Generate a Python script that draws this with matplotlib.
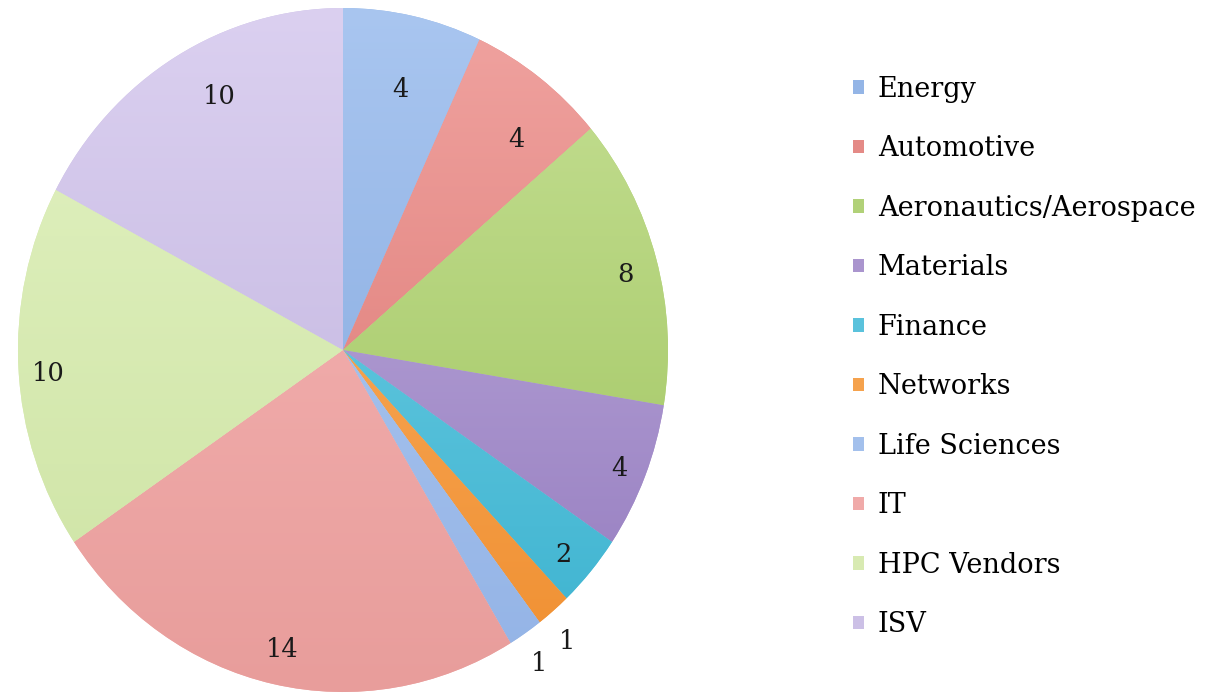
import numpy as np
import matplotlib
matplotlib.use("Agg")
import matplotlib.pyplot as plt
import matplotlib.colors as mcolors

# data
categories = ["Energy", "Automotive", "Aeronautics/Aerospace", "Materials", "Finance",
              "Networks", "Life Sciences", "IT", "HPC Vendors", "ISV"]
counts = [4, 4, 8, 4, 2, 1, 1, 14, 10, 10]

# light (top) / dark (bottom) shade per slice
top_colors = ["#a9c6f0", "#f0a3a0", "#c6e095", "#c3b2e0", "#79d3e8",
              "#fbb46a", "#b3cdf2", "#f7b7b7", "#e2f2c2", "#dbd0f0"]
bot_colors = ["#7fa4dc", "#d9716c", "#9cc25a", "#9279bd", "#3bb2cf",
              "#f08f30", "#93b3e6", "#e89d9b", "#cde3a3", "#bdb0dc"]
# label placement: radial distance and small angle nudge (degrees)
label_dist = [0.79, 0.82, 0.9, 0.915, 0.9, 1.09, 1.09, 0.89, 0.91, 0.84]
label_nudge = [-0.4, -3.4, -0.8, 0, -0.6, -1.2, -0.6, 0.2, 0.8, -4]

plt.rcParams['font.family'] = ['DejaVu Serif']

fig = plt.figure(figsize=(12.14, 6.95), dpi=100)
ax = fig.add_axes([18 / 1214, 3 / 695, 650 / 1214, 684 / 695])

mid_colors = [mcolors.to_hex((np.array(mcolors.to_rgb(a)) + np.array(mcolors.to_rgb(b))) / 2)
              for a, b in zip(top_colors, bot_colors)]

wedges, _ = ax.pie(counts, colors=mid_colors, startangle=90, counterclock=False,
                   radius=1.0, wedgeprops=dict(linewidth=0))
ax.set_aspect('auto')

# vertical gradient on each slice
grad = np.linspace(0, 1, 256).reshape(-1, 1)
for w, c1, c2 in zip(wedges, top_colors, bot_colors):
    cmap = mcolors.LinearSegmentedColormap.from_list("g", [c2, c1])
    im = ax.imshow(grad, cmap=cmap, extent=(-1, 1, -1, 1), origin='lower',
                   aspect='auto', zorder=w.get_zorder() + 0.1, interpolation='bilinear')
    im.set_clip_path(w)

ax.set_xlim(-1, 1)
ax.set_ylim(-1, 1)
ax.axis('off')

# value labels
for w, v, d, n in zip(wedges, counts, label_dist, label_nudge):
    ang = np.deg2rad((w.theta1 + w.theta2) / 2 + n)
    ax.text(d * np.cos(ang), d * np.sin(ang), str(v), ha='center', va='center_baseline',
            fontsize=18.5, color='#1a1a1a', zorder=5)

leg = fig.legend(wedges, categories, loc='center left',
                 bbox_to_anchor=(829 / 1214, 1 - 357 / 695),
                 frameon=False, fontsize=19.5, handlelength=0.4, handleheight=0.4,
                 handletextpad=0.5, labelspacing=1.2)
for h, c in zip(leg.legend_handles, mid_colors):
    h.set_facecolor(c)

fig.savefig("out.png", dpi=100, facecolor='white')
